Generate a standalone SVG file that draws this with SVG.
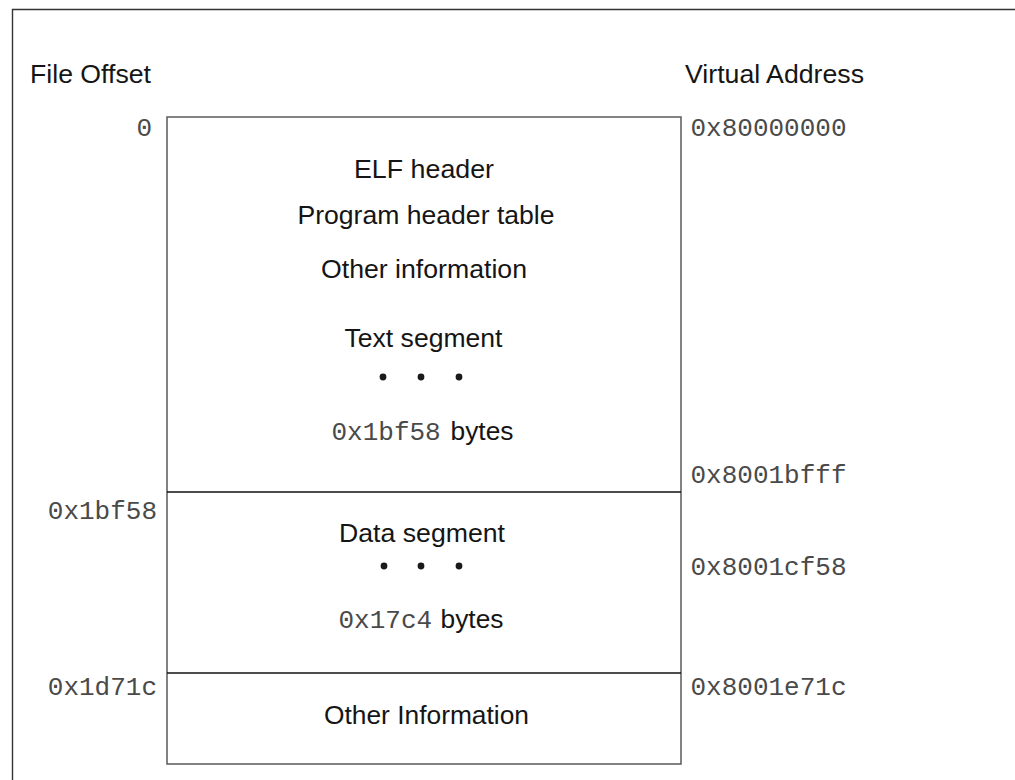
<svg xmlns="http://www.w3.org/2000/svg" width="1015" height="780" viewBox="0 0 1015 780">
  <style>
    .sans { font-family: "Liberation Sans", Arial, sans-serif; font-size: 25px; fill: #151515; }
    .mono { font-family: "Liberation Mono", "Courier New", monospace; font-size: 26px; fill: #4a4a4a; }
    .mid { text-anchor: middle; }
    .end { text-anchor: end; }
    .frame { fill: none; stroke: #333; stroke-width: 1.4; }
    .box { fill: #fff; stroke: #5a5a5a; stroke-width: 1.5; }
    .divider { stroke: #111; stroke-width: 1.6; }
    .dot { fill: #1a1a1a; }
  </style>

  <rect width="1015" height="780" fill="#fff"/>
  <!-- page frame (open to the right and bottom) -->
  <path class="frame" d="M12.5 790 V9.5 H1020"/>

  <!-- column headings -->
  <g id="headings">
    <text class="sans" x="30" y="83" textLength="121" lengthAdjust="spacingAndGlyphs">File Offset</text>
    <text class="sans" x="685" y="83" textLength="179" lengthAdjust="spacingAndGlyphs">Virtual Address</text>
  </g>

  <!-- file image box -->
  <rect id="file-box" class="box" x="167" y="117" width="514" height="647"/>

  <g id="dividers">
    <line class="divider" x1="167" y1="492" x2="681" y2="492"/>
    <line class="divider" x1="167" y1="673" x2="681" y2="673"/>
  </g>

  <!-- text segment -->
  <g id="text-segment">
    <text class="sans mid" x="424" y="178" textLength="140" lengthAdjust="spacingAndGlyphs">ELF header</text>
    <text class="sans mid" x="426" y="224" textLength="257" lengthAdjust="spacingAndGlyphs">Program header table</text>
    <text class="sans mid" x="424" y="278" textLength="206" lengthAdjust="spacingAndGlyphs">Other information</text>
    <text class="sans mid" x="423.5" y="347" textLength="158" lengthAdjust="spacingAndGlyphs">Text segment</text>
    <circle class="dot" cx="383" cy="377" r="3.4"/>
    <circle class="dot" cx="421" cy="377" r="3.4"/>
    <circle class="dot" cx="459" cy="377" r="3.4"/>
    <text class="mono" x="331.5" y="440">0x1bf58</text>
    <text class="sans" x="450.5" y="440" textLength="63" lengthAdjust="spacingAndGlyphs">bytes</text>
  </g>

  <!-- data segment -->
  <g id="data-segment">
    <text class="sans mid" x="422" y="542" textLength="166" lengthAdjust="spacingAndGlyphs">Data segment</text>
    <circle class="dot" cx="384" cy="566" r="3.4"/>
    <circle class="dot" cx="421" cy="566" r="3.4"/>
    <circle class="dot" cx="459" cy="566" r="3.4"/>
    <text class="mono" x="338.5" y="628">0x17c4</text>
    <text class="sans" x="440.5" y="628" textLength="63" lengthAdjust="spacingAndGlyphs">bytes</text>
  </g>

  <!-- trailing section -->
  <g id="other-section">
    <text class="sans mid" x="426.5" y="724" textLength="205" lengthAdjust="spacingAndGlyphs">Other Information</text>
  </g>

  <!-- file offsets -->
  <g id="file-offsets">
    <text class="mono end" x="152" y="136">0</text>
    <text class="mono end" x="157" y="519">0x1bf58</text>
    <text class="mono end" x="157" y="695">0x1d71c</text>
  </g>

  <!-- virtual addresses -->
  <g id="virtual-addresses">
    <text class="mono" x="690.5" y="136">0x80000000</text>
    <text class="mono" x="690.5" y="483">0x8001bfff</text>
    <text class="mono" x="690.5" y="575">0x8001cf58</text>
    <text class="mono" x="690.5" y="695">0x8001e71c</text>
  </g>
</svg>
